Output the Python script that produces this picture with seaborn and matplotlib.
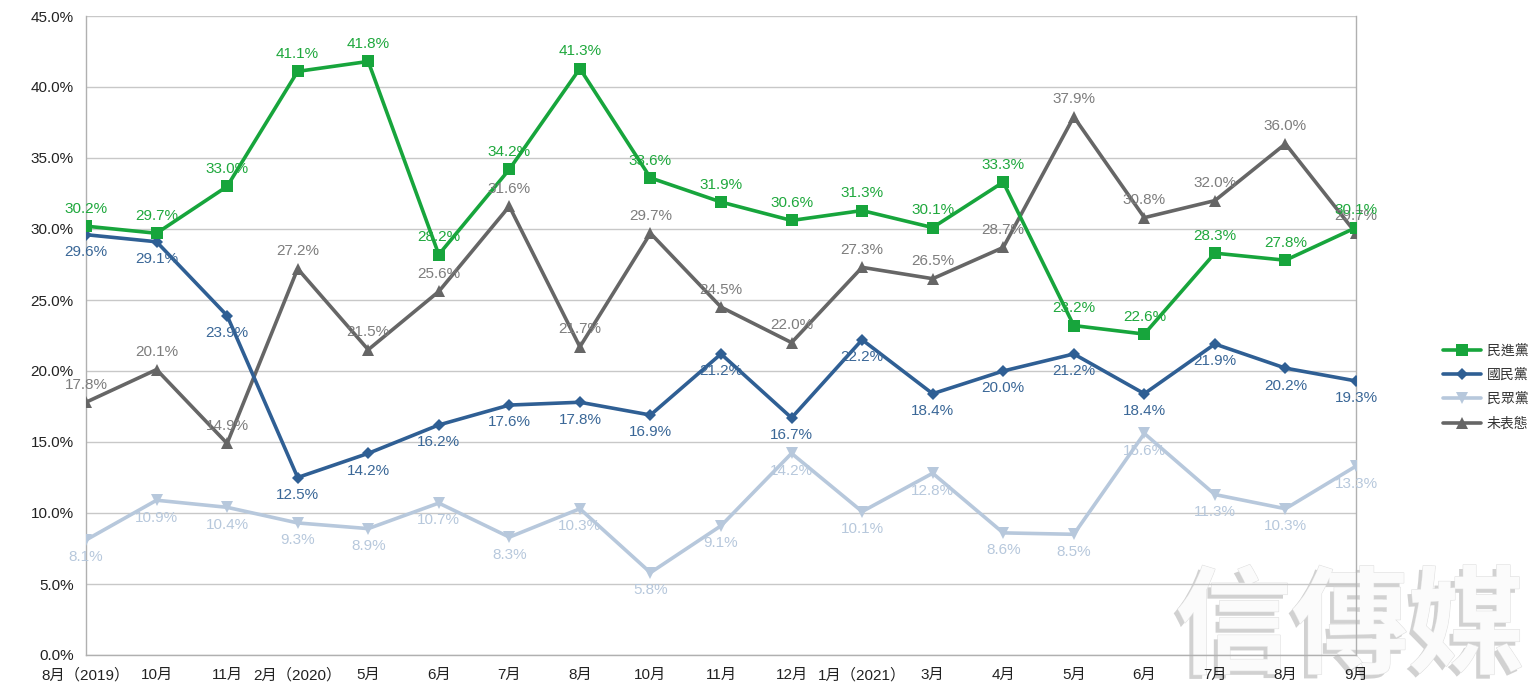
import matplotlib
matplotlib.use("Agg")
import matplotlib.pyplot as plt
import matplotlib.patheffects as pe
import seaborn as sns
import pandas as pd
import numpy as np

months = ["8月（2019）", "10月", "11月", "2月（2020）", "5月", "6月", "7月", "8月", "10月",
          "11月", "12月", "1月（2021）", "3月", "4月", "5月", "6月", "7月", "8月", "9月"]
dpp = [30.2, 29.7, 33.0, 41.1, 41.8, 28.2, 34.2, 41.3, 33.6, 31.9, 30.6, 31.3, 30.1, 33.3, 23.2, 22.6, 28.3, 27.8, 30.1]
kmt = [29.6, 29.1, 23.9, 12.5, 14.2, 16.2, 17.6, 17.8, 16.9, 21.2, 16.7, 22.2, 18.4, 20.0, 21.2, 18.4, 21.9, 20.2, 19.3]
tpp = [8.1, 10.9, 10.4, 9.3, 8.9, 10.7, 8.3, 10.3, 5.8, 9.1, 14.2, 10.1, 12.8, 8.6, 8.5, 15.6, 11.3, 10.3, 13.3]
undecided = [17.8, 20.1, 14.9, 27.2, 21.5, 25.6, 31.6, 21.7, 29.7, 24.5, 22.0, 27.3, 26.5, 28.7, 37.9, 30.8, 32.0, 36.0, 29.7]
series_names = ["民進黨", "國民黨", "民眾黨", "未表態"]

sns.set_style("white")
plt.rcParams['font.family'] = ['Liberation Sans', 'Noto Sans CJK TC', 'DejaVu Sans']

fig = plt.figure(figsize=(15.36, 6.99), dpi=100)
ax = fig.add_axes([86/1536, 1-655/699, (1356-86)/1536, (655-16)/699])
ax.patch.set_alpha(0)

x = np.arange(len(months))
styles = [
    (dpp, "#17a53c", "#1fa83d", "s", 8, 1),
    (kmt, "#2f5f94", "#3a6797", "D", 6, -1),
    (tpp, "#b7c8dc", "#b7c8dc", "v", 8, -1),
    (undecided, "#666666", "#7d7d7d", "^", 8, 1),
]
order = [3, 2, 1, 0]
for idx in order:
    vals, col, lcol, mk, ms, d = styles[idx]
    sns.lineplot(x=x, y=vals, ax=ax, color=col, marker=mk, markersize=ms,
                 markeredgewidth=0, linewidth=2.6, label=series_names[idx], zorder=3 + (3 - idx))
    for xi, v in zip(x, vals):
        ax.annotate(f"{v:.1f}%", (xi, v), xytext=(0, 12.5 * d), textcoords="offset points",
                    ha="center", va="center", color=lcol, fontsize=11, zorder=10)

ax.set_xlim(0, len(months) - 1)
ax.set_ylim(0, 45)
ax.set_yticks(np.arange(0, 46, 5))
ax.set_yticklabels([f"{t:.1f}%" for t in np.arange(0, 46, 5)], fontsize=11, color="#222222")
ax.set_xticks(x)
ax.set_xticklabels(months, fontsize=11, color="#222222")
ax.grid(axis="y", color="#c8c8c8", linewidth=1)
ax.grid(axis="x", visible=False)
ax.spines["top"].set_visible(False)
for s in ["left", "bottom", "right"]:
    ax.spines[s].set_color("#b0b0b0")
    ax.spines[s].set_linewidth(1)
ax.tick_params(axis="both", length=6, width=1, color="#b0b0b0", pad=3)
ax.set_axisbelow(True)

handles, labels = ax.get_legend_handles_labels()
hmap = dict(zip(labels, handles))
leg = ax.legend([hmap[n] for n in series_names], series_names, loc="center left",
                frameon=False, fontsize=10, handlelength=2.8, labelspacing=0.75,
                handletextpad=0.4)
leg.set_bbox_to_anchor(((1430 - 86) / 1270, (655 - 387) / 639), transform=ax.transAxes)
for t in leg.get_texts():
    t.set_color("#333333")

fig.text(1350 / 1536, 1 - 630 / 699, "信傳媒", fontsize=84, ha="center", va="center",
         family=["Noto Sans CJK TC"], fontweight="bold", color="#fbfbfb", zorder=-5,
         path_effects=[pe.withSimplePatchShadow(offset=(-3, -3), shadow_rgbFace="#9a9a9a", alpha=0.45),
                       pe.Stroke(linewidth=0.8, foreground="#e0e0e0"), pe.Normal()])

fig.savefig("out.png", dpi=100)
